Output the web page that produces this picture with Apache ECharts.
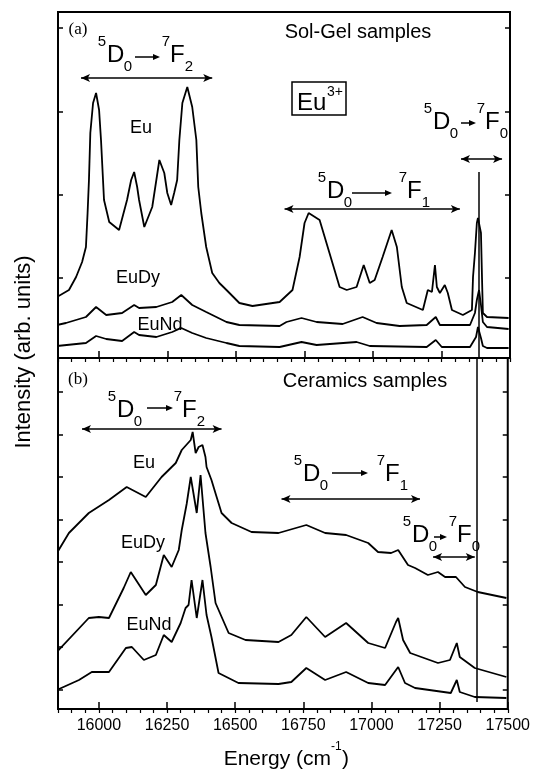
<!DOCTYPE html>
<html>
<head>
<meta charset="utf-8">
<script src="https://cdn.jsdelivr.net/npm/echarts@6/dist/echarts.min.js"></script>
<style>
  html, body { margin: 0; padding: 0; background: #fff; }
  #chart { width: 533px; height: 771px; }
</style>
</head>
<body>
<div id="chart"></div>
<script>
// ===== 数据（能量 cm-1, 强度 arb. units）=====
const X_MIN = 15850;
const X_MAX = 17500;
const majorTicks = [16000, 16250, 16500, 16750, 17000, 17250, 17500];
const minorTicks = [15850, 15900, 15950, 16000, 16050, 16100, 16150, 16200, 16250, 16300,
  16350, 16400, 16450, 16500, 16550, 16600, 16650, 16700, 16750, 16800, 16850, 16900,
  16950, 17000, 17050, 17100, 17150, 17200, 17250, 17300, 17350, 17400, 17450, 17500];

// (a) Sol-Gel
const solGelMax = 346;
const solGelTicks = [80, 163, 246, 330];
const solGelEu = [[15846,61],[15890,68],[15916,81],[15938,96],[15952,111],[15958,145],[15963,178],[15968,225],[15978,255],[15989,265],[16000,248],[16007,218],[16018,158],[16037,136],[16073,128],[16102,158],[16117,178],[16128,186],[16139,171],[16146,158],[16165,131],[16172,130],[16194,151],[16209,178],[16220,198],[16227,200],[16238,185],[16249,165],[16263,153],[16274,165],[16285,178],[16293,218],[16304,255],[16322,271],[16329,272],[16340,251],[16355,218],[16362,171],[16373,145],[16391,111],[16413,85],[16439,75],[16465,68],[16512,55],[16560,52],[16659,56],[16706,68],[16732,101],[16750,135],[16765,145],[16805,138],[16841,105],[16878,71],[16904,68],[16940,71],[16966,93],[16988,75],[17006,78],[17035,101],[17068,128],[17087,111],[17105,71],[17123,55],[17182,48],[17200,68],[17215,66],[17226,93],[17233,71],[17244,65],[17262,73],[17273,65],[17288,48],[17328,43],[17361,48],[17365,81],[17372,105],[17379,135],[17383,140],[17394,125],[17398,78],[17401,45],[17416,41],[17495,40]];
const solGelEuDy = [[15846,33],[15879,35],[15952,41],[15989,51],[16026,43],[16084,45],[16128,53],[16146,50],[16209,51],[16267,56],[16300,63],[16340,53],[16391,46],[16465,36],[16512,33],[16659,32],[16684,36],[16739,40],[16794,36],[16889,34],[16962,41],[17013,35],[17097,32],[17196,33],[17229,41],[17244,33],[17354,33],[17372,45],[17379,58],[17387,68],[17394,53],[17401,36],[17416,31],[17495,29]];
const solGelEuNd = [[15846,12],[15952,15],[15989,22],[16026,19],[16084,17],[16128,26],[16146,23],[16209,21],[16267,26],[16300,30],[16340,25],[16391,20],[16465,15],[16512,12],[16659,11],[16739,16],[16794,13],[16940,16],[16988,12],[17196,11],[17229,18],[17251,11],[17354,11],[17376,21],[17383,31],[17394,20],[17401,12],[17416,10],[17495,10]];
// 双箭头: [起点, 终点, 高度]
const solGelArrows = [[15934, 16413, 280], [16677, 17317, 149], [17321, 17471, 199]];

// (b) Ceramics
const ceramicsMax = 351;
const ceramicsTicks = [19, 62, 104, 147, 189, 232, 274, 317];
const ceramicsEu = [[15846,156],[15890,176],[15963,196],[16037,209],[16102,222],[16172,212],[16230,232],[16282,246],[16304,259],[16337,269],[16344,277],[16355,256],[16366,262],[16380,264],[16391,252],[16395,242],[16413,229],[16432,212],[16450,196],[16487,186],[16560,177],[16659,176],[16761,184],[16830,176],[16907,174],[16988,166],[17024,157],[17072,156],[17098,159],[17134,144],[17160,141],[17207,134],[17244,137],[17270,132],[17310,132],[17343,122],[17390,117],[17495,111]];
const ceramicsEuDy = [[15846,57],[15963,91],[16000,92],[16037,91],[16091,121],[16117,137],[16172,114],[16209,124],[16238,154],[16267,142],[16293,159],[16304,179],[16322,205],[16337,232],[16344,234],[16359,196],[16373,234],[16380,236],[16391,176],[16410,142],[16428,106],[16476,76],[16538,69],[16659,67],[16706,74],[16761,92],[16830,72],[16907,86],[16988,66],[17050,61],[17090,87],[17098,91],[17116,69],[17142,56],[17244,46],[17288,49],[17313,66],[17324,52],[17379,41],[17495,32]];
const ceramicsEuNd = [[15846,19],[15927,29],[15974,37],[16037,37],[16099,61],[16121,62],[16165,49],[16209,54],[16238,74],[16267,67],[16300,86],[16318,101],[16329,104],[16340,129],[16359,91],[16380,129],[16395,94],[16413,72],[16439,36],[16512,26],[16659,25],[16706,27],[16761,41],[16830,29],[16907,37],[16988,26],[17050,24],[17098,42],[17123,26],[17160,21],[17291,16],[17313,29],[17324,17],[17379,12],[17495,11]];
const ceramicsArrows = [[15938, 16450, 280], [16670, 17178, 210], [17226, 17379, 152]];

// 5D0 -> 7F0 位置竖线
const f0Energy = 17387;
const f0TopSolGel = 186;
const f0BottomCeramics = 7;

// ===== 样式 =====
const FONT = 'Arial, "Liberation Sans", Helvetica, sans-serif';
const SERIF = '"Times New Roman", "Liberation Serif", serif';
const BLACK = '#000';

const xAxisBase = (gridIndex) => ({
  type: 'value', gridIndex, min: X_MIN, max: X_MAX,
  axisLine: { show: false }, splitLine: { show: false },
});
const yAxisBase = (gridIndex, max, ticks, position) => ({
  type: 'value', gridIndex, min: 0, max, position,
  axisLine: { show: false }, splitLine: { show: false },
  axisLabel: { show: false },
  axisTick: { inside: true, length: 5, customValues: ticks, lineStyle: { color: BLACK, width: 1.5 } },
});

const arrowLines = (arrows) => arrows.map(([a, b, h]) => [{ coord: [a, h] }, { coord: [b, h] }]);

const lineSeries = (name, data, idx, markLineData) => ({
  name, type: 'line', data, xAxisIndex: idx * 2, yAxisIndex: idx * 2,
  showSymbol: false, silent: true,
  lineStyle: { color: BLACK, width: 1.8 },
  markLine: markLineData ? {
    silent: true, animation: false,
    symbol: ['arrow', 'arrow'], symbolSize: [6, 9],
    label: { show: false },
    lineStyle: { color: BLACK, width: 1.5, type: 'solid' },
    data: markLineData,
  } : undefined,
});

// ===== 文本注释 =====
const txt = (x, y, text, size, extra = {}) => ({
  type: 'text', x, y, silent: true,
  style: Object.assign({ text, fontSize: size, fontFamily: FONT, fill: BLACK, align: 'center', verticalAlign: 'middle' }, extra),
});

// 5D0 -> 7Fn 标签
const term = (s) => [
  txt(s.x - 5, s.y - 13, '5', 15),
  txt(s.x, s.y, 'D', 24, { align: 'left' }),
  txt(s.x + 21, s.y + 12, '0', 15),
  { type: 'line', silent: true, shape: { x1: s.ax0, y1: s.ay, x2: s.ax1 - 5, y2: s.ay }, style: { stroke: BLACK, lineWidth: 1.5 } },
  { type: 'polygon', silent: true, shape: { points: [[s.ax1, s.ay], [s.ax1 - 7, s.ay - 3], [s.ax1 - 7, s.ay + 3]] }, style: { fill: BLACK } },
  txt(s.fx - 4, s.y - 13, '7', 15),
  txt(s.fx, s.y, 'F', 24, { align: 'left' }),
  txt(s.fx + 19, s.y + 12, s.sub, 15),
];

const graphics = [
  txt(78, 30, '(a)', 17, { fontFamily: SERIF }),
  txt(78, 380, '(b)', 17, { fontFamily: SERIF }),
  txt(358, 32, 'Sol-Gel samples', 20),
  txt(365, 381, 'Ceramics samples', 20),
  txt(141, 128, 'Eu', 18),
  txt(138, 278, 'EuDy', 18),
  txt(160, 325, 'EuNd', 18),
  txt(144, 463, 'Eu', 18),
  txt(143, 543, 'EuDy', 18),
  txt(149, 625, 'EuNd', 18),
  // Eu3+ 方框
  { type: 'rect', silent: true, shape: { x: 292, y: 82, width: 54, height: 33 }, style: { fill: 'none', stroke: BLACK, lineWidth: 1.5 } },
  txt(297, 103, 'Eu', 24, { align: 'left' }),
  txt(335, 92, '3+', 14),
  ...term({ x: 107, y: 55, ay: 57, ax0: 135, ax1: 160, fx: 170, sub: '2' }),
  ...term({ x: 327, y: 191, ay: 193, ax0: 352, ax1: 392, fx: 407, sub: '1' }),
  ...term({ x: 433, y: 122, ay: 123, ax0: 461, ax1: 476, fx: 485, sub: '0' }),
  ...term({ x: 117, y: 410, ay: 408, ax0: 147, ax1: 173, fx: 182, sub: '2' }),
  ...term({ x: 303, y: 474, ay: 473, ax0: 332, ax1: 368, fx: 385, sub: '1' }),
  ...term({ x: 412, y: 535, ay: 537, ax0: 434, ax1: 447, fx: 457, sub: '0' }),
  // 坐标轴标题
  { type: 'text', x: 24, y: 352, rotation: Math.PI / 2, silent: true,
    style: { text: 'Intensity (arb. units)', fontSize: 22, fontFamily: FONT, fill: BLACK, align: 'center', verticalAlign: 'middle' } },
  txt(331, 759, 'Energy (cm', 21, { align: 'right' }),
  txt(331, 747, '-1', 12, { align: 'left' }),
  txt(342, 759, ')', 21, { align: 'left' }),
];

const chart = echarts.init(document.getElementById('chart'), null, { renderer: 'canvas' });

chart.setOption({
  animation: false,
  backgroundColor: '#fff',
  grid: [
    { left: 58, right: 23, top: 12, height: 346, show: true, borderColor: BLACK, borderWidth: 2 },
    { left: 58, right: 23, top: 358, height: 351, show: true, borderColor: BLACK, borderWidth: 2 },
  ],
  xAxis: [
    { ...xAxisBase(0), axisLabel: { show: false },
      axisTick: { inside: true, length: 7, customValues: majorTicks, lineStyle: { color: BLACK, width: 1.5 } } },
    { ...xAxisBase(0), axisLabel: { show: false },
      axisTick: { inside: true, length: 4, customValues: minorTicks, lineStyle: { color: BLACK, width: 1.2 } } },
    { ...xAxisBase(1),
      axisLabel: { customValues: majorTicks, formatter: (v) => String(v), color: BLACK, fontSize: 16, fontFamily: FONT, margin: 9 },
      axisTick: { inside: true, length: 7, customValues: majorTicks, lineStyle: { color: BLACK, width: 1.5 } } },
    { ...xAxisBase(1), axisLabel: { show: false },
      axisTick: { inside: true, length: 4, customValues: minorTicks, lineStyle: { color: BLACK, width: 1.2 } } },
  ],
  yAxis: [
    yAxisBase(0, solGelMax, solGelTicks, 'left'),
    yAxisBase(0, solGelMax, solGelTicks, 'right'),
    yAxisBase(1, ceramicsMax, ceramicsTicks, 'left'),
    yAxisBase(1, ceramicsMax, ceramicsTicks, 'right'),
  ],
  series: [
    lineSeries('Sol-Gel Eu', solGelEu, 0, [
      ...arrowLines(solGelArrows),
      [{ coord: [f0Energy, f0TopSolGel], symbol: 'none' }, { coord: [f0Energy, 0], symbol: 'none' }],
    ]),
    lineSeries('Sol-Gel EuDy', solGelEuDy, 0),
    lineSeries('Sol-Gel EuNd', solGelEuNd, 0),
    lineSeries('Ceramics Eu', ceramicsEu, 1, [
      ...arrowLines(ceramicsArrows),
      [{ coord: [f0Energy, ceramicsMax], symbol: 'none' }, { coord: [f0Energy, f0BottomCeramics], symbol: 'none' }],
    ]),
    lineSeries('Ceramics EuDy', ceramicsEuDy, 1),
    lineSeries('Ceramics EuNd', ceramicsEuNd, 1),
  ],
  graphic: graphics,
});
</script>
</body>
</html>
